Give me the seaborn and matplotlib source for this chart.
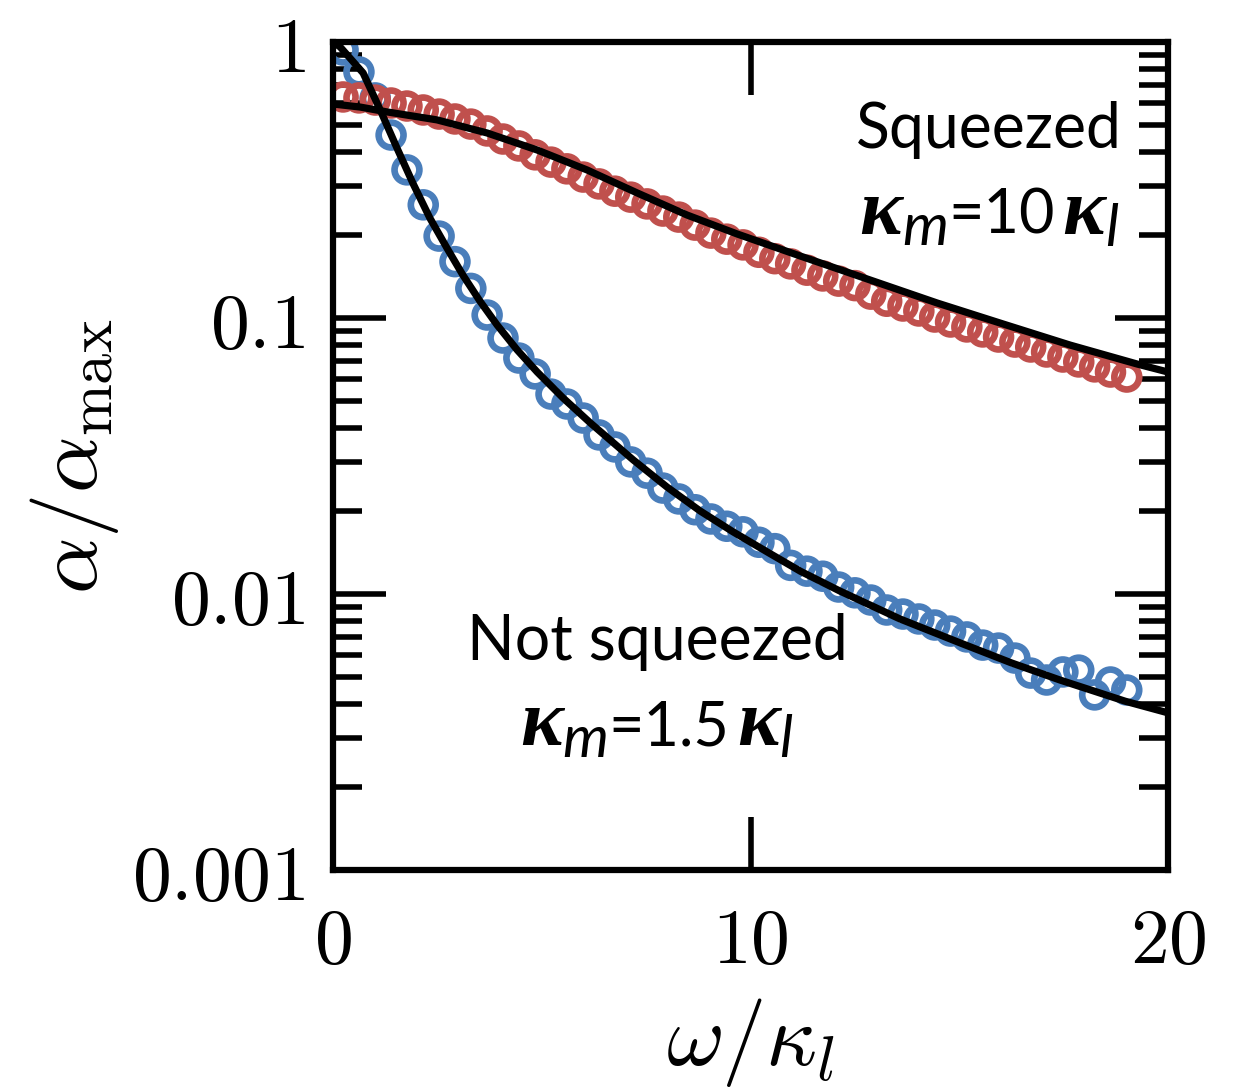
import matplotlib
matplotlib.use("Agg")
import matplotlib.pyplot as plt
import numpy as np
import pandas as pd
import seaborn as sns
from matplotlib.offsetbox import TextArea, HPacker, AnchoredOffsetbox
from matplotlib.ticker import LogLocator, NullFormatter

# Sampled frequencies (omega / kappa_l) for both simulated series
omega = [0.24, 0.62, 1.01, 1.39, 1.77, 2.16, 2.54, 2.92, 3.30, 3.69,
         4.07, 4.45, 4.84, 5.22, 5.60, 5.99, 6.37, 6.75, 7.13, 7.52,
         7.90, 8.28, 8.67, 9.05, 9.43, 9.82, 10.20, 10.58, 10.96, 11.35,
         11.73, 12.11, 12.50, 12.88, 13.26, 13.65, 14.03, 14.41, 14.79, 15.18,
         15.56, 15.94, 16.33, 16.71, 17.09, 17.48, 17.86, 18.24, 18.62, 19.01]

# Squeezed (kappa_m = 10 kappa_l), simulated alpha / alpha_max
alpha_squeezed = [0.632, 0.627, 0.616, 0.601, 0.586, 0.567, 0.548, 0.526, 0.504, 0.476,
                  0.445, 0.420, 0.390, 0.367, 0.347, 0.324, 0.306, 0.288, 0.274, 0.259,
                  0.244, 0.232, 0.217, 0.203, 0.193, 0.184, 0.173, 0.164, 0.157, 0.149,
                  0.142, 0.136, 0.131, 0.122, 0.115, 0.1105, 0.106, 0.1008, 0.0967, 0.0928,
                  0.0890, 0.0853, 0.0818, 0.0785, 0.0753, 0.0722, 0.0693, 0.0665, 0.0637, 0.0611]

# Not squeezed (kappa_m = 1.5 kappa_l), simulated alpha / alpha_max
alpha_plain = [0.935, 0.779, 0.627, 0.460, 0.344, 0.257, 0.198, 0.160, 0.128, 0.1025,
               0.0846, 0.0716, 0.0627, 0.0530, 0.0488, 0.0434, 0.0377, 0.0341, 0.0301, 0.0274,
               0.0242, 0.0221, 0.0202, 0.0187, 0.0176, 0.0168, 0.0154, 0.0146, 0.0127, 0.0121,
               0.0116, 0.0106, 0.0101, 0.00951, 0.00875, 0.00846, 0.00812, 0.00772, 0.00734, 0.00699,
               0.00653, 0.00637, 0.00586, 0.00517, 0.00488, 0.00522, 0.00530, 0.00431, 0.00480, 0.00449]

# Analytic curves
omega_fit_squeezed = [0.0, 0.65, 1.29, 2.49, 3.69, 4.89, 6.08, 7.28, 8.48, 9.68,
                      11.19, 12.79, 14.47, 16.05, 17.65, 19.26, 20.0]
fit_squeezed = [0.596, 0.581, 0.558, 0.522, 0.468, 0.406, 0.344, 0.284, 0.236, 0.2015,
                0.1677, 0.1385, 0.1133, 0.0951, 0.0798, 0.0681, 0.0637]

omega_fit_plain = [0.0, 0.17, 0.72, 1.13, 1.53, 1.92, 2.32, 2.73, 3.11, 3.52,
                   3.93, 4.41, 4.89, 5.51, 6.16, 6.64, 7.19, 8.00, 8.79, 9.58,
                   10.40, 11.19, 12.14, 13.58, 15.02, 16.26, 17.41, 18.97, 20.0]
fit_plain = [1.0, 0.959, 0.772, 0.567, 0.413, 0.306, 0.230, 0.179, 0.143, 0.115,
             0.0943, 0.0766, 0.0637, 0.0513, 0.0417, 0.0361, 0.0306, 0.0244, 0.0200, 0.0168,
             0.0142, 0.0121, 0.01025, 0.00812, 0.00665, 0.00562, 0.00488, 0.00409, 0.00371]

x_ticks = [0, 10, 20]
x_ticklabels = [r"$0$", r"$10$", r"$20$"]
y_ticks = [0.001, 0.01, 0.1, 1]
y_ticklabels = [r"$0.001$", r"$0.01$", r"$0.1$", r"$1$"]

RED = "#C0504D"
BLUE = "#4A7EBB"

sns.set_theme(style="ticks")
plt.rcParams.update({
    "mathtext.fontset": "cm",
    "mathtext.rm": "Lato",
    "mathtext.it": "Lato:italic",
    "mathtext.bf": "Liberation Serif:italic:bold",
    "text.color": "black",
    "axes.labelcolor": "black",
    "xtick.color": "black",
    "ytick.color": "black",
    "axes.edgecolor": "black",
})

pts = pd.DataFrame({"omega": omega,
                    "squeezed": alpha_squeezed,
                    "plain": alpha_plain})

fig = plt.figure(figsize=(12.34, 10.9), dpi=100)
ax = fig.add_axes([0.2699, 0.2018, 0.6767, 0.7597])

ring = dict(s=320, marker="o", facecolor="none", linewidth=4.8, zorder=2)
sns.scatterplot(data=pts, x="omega", y="plain", edgecolor=BLUE, ax=ax, **ring)
sns.scatterplot(data=pts, x="omega", y="squeezed", edgecolor=RED, ax=ax, **ring)

sns.lineplot(x=omega_fit_plain, y=fit_plain, color="black", lw=5.2, ax=ax,
             sort=False, estimator=None, zorder=3)
sns.lineplot(x=omega_fit_squeezed, y=fit_squeezed, color="black", lw=5.2, ax=ax,
             sort=False, estimator=None, zorder=3)

ax.set_yscale("log")
ax.set_xlim(0, 20)
ax.set_ylim(0.001, 1)
ax.set_xticks(x_ticks, labels=x_ticklabels)
ax.set_yticks(y_ticks, labels=y_ticklabels)
ax.yaxis.set_minor_locator(LogLocator(base=10, subs=np.arange(2, 10)))
ax.yaxis.set_minor_formatter(NullFormatter())

ax.tick_params(which="both", direction="in", top=True, right=True,
               color="black", labelcolor="black", width=4.0)
ax.tick_params(which="major", length=38, labelsize=56)
ax.tick_params(axis="y", which="major", pad=20)
ax.tick_params(axis="x", which="major", pad=24)
ax.tick_params(which="minor", length=21)
for sp in ax.spines.values():
    sp.set_linewidth(4.5)
    sp.set_color("black")

ax.set_xlabel(r"$\omega/\kappa_l$", fontsize=64, labelpad=12, color="black")
ax.set_ylabel(r"$\alpha/\alpha_{\rm max}$", fontsize=64, labelpad=8, color="black")
ax.grid(False)


def kappa_ratio(coef, anchor, loc):
    kap = dict(family="Liberation Serif", weight="bold", style="italic",
               size=58, color="black")
    sub = dict(size=60, math_fontfamily="custom", color="black")
    body = dict(family="Lato", size=44, color="black")
    parts = [TextArea("\u03ba", textprops=kap),
             TextArea(r"${}_{m}$", textprops=sub),
             TextArea("=" + coef, textprops=body),
             TextArea("\u2009", textprops=body),
             TextArea("\u03ba", textprops=kap),
             TextArea(r"${}_{l}$", textprops=sub)]
    box = HPacker(children=parts, align="baseline", pad=0, sep=0)
    ab = AnchoredOffsetbox(loc=loc, child=box, pad=0, borderpad=0, frameon=False,
                           bbox_to_anchor=anchor, bbox_transform=ax.transAxes)
    ax.add_artist(ab)


ax.text(0.945, 0.872, "Squeezed", transform=ax.transAxes, ha="right",
        va="baseline", family="Lato", fontsize=45, color="black")
kappa_ratio("10", (0.942, 0.748), "lower right")

ax.text(0.388, 0.254, "Not squeezed", transform=ax.transAxes, ha="center",
        va="baseline", family="Lato", fontsize=45, color="black")
kappa_ratio("1.5", (0.388, 0.130), "lower center")

fig.savefig("out.png", dpi=100)
